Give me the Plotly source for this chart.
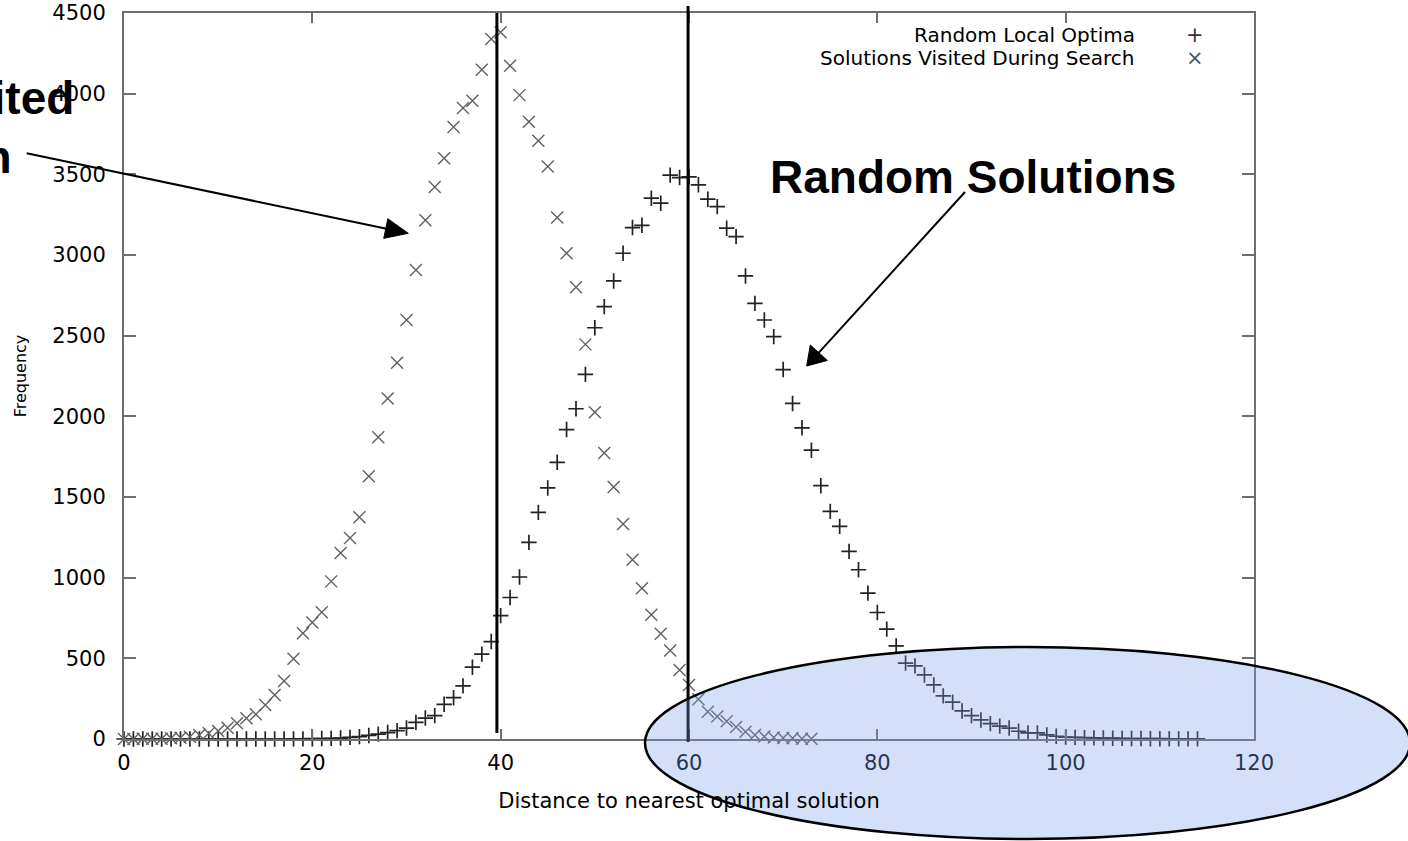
import plotly.graph_objects as go

# ---------------- data ----------------
local_optima_dist = list(range(0, 115))
local_optima_freq = [0, 0, 0, 0, 0, 0, 0, 0, 0, 0,
                     0, 0, 0, 0, 0, 0, 0, 0, 1, 1,
                     2, 3, 4, 6, 10, 15, 22, 30, 40, 52,
                     68, 103, 130, 145, 215, 256, 329, 445, 526, 604,
                     765, 877, 1004, 1219, 1405, 1556, 1715, 1918, 2047, 2260,
                     2549, 2680, 2839, 3011, 3170, 3184, 3352, 3321, 3495, 3480,
                     3484, 3435, 3346, 3300, 3166, 3114, 2870, 2700, 2597, 2494,
                     2290, 2080, 1929, 1790, 1570, 1411, 1318, 1163, 1049, 904,
                     784, 681, 577, 470, 453, 397, 335, 267, 228, 174,
                     145, 118, 95, 80, 68, 48, 38, 38, 25, 17,
                     12, 10, 8, 7, 6, 5, 4, 3, 3, 2,
                     2, 1, 1, 1, 1]

visited_dist = list(range(0, 74))
visited_freq = [0, 0, 1, 1, 2, 4, 8, 14, 25, 35,
                50, 70, 97, 128, 153, 211, 273, 360, 497, 656,
                722, 786, 977, 1153, 1246, 1374, 1628, 1870, 2110, 2332,
                2597, 2907, 3215, 3422, 3600, 3794, 3911, 3956, 4148, 4339,
                4380, 4173, 3991, 3826, 3708, 3549, 3232, 3011, 2800, 2446,
                2026, 1773, 1562, 1333, 1111, 935, 770, 652, 548, 428,
                335, 246, 169, 140, 110, 75, 45, 25, 15, 10,
                6, 4, 2, 1]

x_tick_vals = [0, 20, 40, 60, 80, 100, 120]
y_tick_vals = [0, 500, 1000, 1500, 2000, 2500, 3000, 3500, 4000, 4500]
reference_lines = [39.6, 59.9]

series_names = ["Random Local Optima", "Solutions Visited During Search"]
callouts = ["Random Solutions", "Solutions Visited", "During Optimization"]

# ---------------- figure geometry ----------------
W, H = 1408, 841
L, R, T, B = 124, 154, 13, 102
PW, PH = W - L - R, H - T - B


def px(xp, yp):
    """pixel -> paper coordinates"""
    return (xp - L) / PW, (H - B - yp) / PH


FONT = "DejaVu Sans"

fig = go.Figure()

fig.add_trace(go.Scatter(
    x=local_optima_dist, y=local_optima_freq, mode="markers", name=series_names[0],
    marker=dict(symbol="cross-thin", size=11, line=dict(width=1.7, color="#222222"),
                color="#222222"),
    cliponaxis=False, showlegend=False))

fig.add_trace(go.Scatter(
    x=visited_dist, y=visited_freq, mode="markers", name=series_names[1],
    marker=dict(symbol="x-thin", size=12, line=dict(width=1.4, color="#606060"),
                color="#606060"),
    cliponaxis=False, showlegend=False))

shapes = []
# vertical reference lines
shapes.append(dict(type="line", xref="x", yref="paper", x0=reference_lines[0], x1=reference_lines[0],
                   y0=px(0, 733)[1], y1=px(0, 13)[1], line=dict(color="black", width=3)))
shapes.append(dict(type="line", xref="x", yref="paper", x0=reference_lines[1], x1=reference_lines[1],
                   y0=px(0, 742)[1], y1=px(0, 6)[1], line=dict(color="black", width=3)))

# highlighted ellipse
ex0, ey0 = px(645, 839)
ex1, ey1 = px(1410, 647)
shapes.append(dict(type="circle", xref="paper", yref="paper", x0=ex0, x1=ex1, y0=ey0, y1=ey1,
                   fillcolor="rgba(120,160,240,0.32)", line=dict(color="black", width=2.5),
                   layer="above"))


def arrow(tail, tip, head_len, half_w, width=2):
    import math
    dx, dy = tip[0] - tail[0], tip[1] - tail[1]
    n = math.hypot(dx, dy)
    ux, uy = dx / n, dy / n
    bx, by = tip[0] - ux * head_len, tip[1] - uy * head_len
    a = px(*tail)
    b = px(bx + ux * 2, by + uy * 2)
    out = [dict(type="line", xref="paper", yref="paper", x0=a[0], y0=a[1], x1=b[0], y1=b[1],
                line=dict(color="black", width=width), layer="above")]
    p1 = px(bx - uy * half_w, by + ux * half_w)
    p2 = px(bx + uy * half_w, by - ux * half_w)
    p3 = px(*tip)
    path = "M{},{} L{},{} L{},{} Z".format(p1[0], p1[1], p3[0], p3[1], p2[0], p2[1])
    out.append(dict(type="path", xref="paper", yref="paper", path=path,
                    fillcolor="black", line=dict(color="black", width=1), layer="above"))
    return out


shapes += arrow((26.7, 153.3), (408.3, 233.3), 23, 10)
shapes += arrow((965, 192), (806.7, 366), 18, 11.5)

annotations = []
# callout texts
cx, cy = px(972.5, 177)
annotations.append(dict(text="<b>%s</b>" % callouts[0], x=cx, y=cy, xref="paper", yref="paper",
                        xanchor="center", yanchor="middle", showarrow=False,
                        font=dict(family="Liberation Sans", size=46, color="black")))
lx, ly = px(76, 98)
annotations.append(dict(text="<b>%s</b>" % callouts[1], x=lx, y=ly, xref="paper", yref="paper",
                        xanchor="right", yanchor="middle", showarrow=False,
                        font=dict(family="Liberation Sans", size=46, color="black")))
lx2, ly2 = px(14, 157)
annotations.append(dict(text="<b>%s</b>" % callouts[2], x=lx2, y=ly2, xref="paper", yref="paper",
                        xanchor="right", yanchor="middle", showarrow=False,
                        font=dict(family="Liberation Sans", size=46, color="black")))

# clipped title fragment at the top
tx, ty = px(562, -3)
annotations.append(dict(text="<i>p</i>", x=tx, y=ty, xref="paper", yref="paper",
                        xanchor="center", yanchor="bottom", showarrow=False,
                        font=dict(family="Liberation Serif", size=22, color="black")))

# key (text right-aligned, symbol on the right, gnuplot style)
for i, (name, sym, yy) in enumerate(zip(series_names, ["+", "×"], [35, 58])):
    kx, ky = px(1137, yy)
    annotations.append(dict(text=name, x=kx, y=ky, xref="paper", yref="paper",
                            xanchor="right", yanchor="middle", showarrow=False,
                            font=dict(family=FONT, size=20, color="black")))
    sx, sy = px(1195, yy)
    annotations.append(dict(text=sym, x=sx, y=sy, xref="paper", yref="paper",
                            xanchor="center", yanchor="middle", showarrow=False,
                            font=dict(family=FONT, size=21, color="#333333" if i == 0 else "#555555")))

axis_common = dict(showline=True, linecolor="#6e6e6e", linewidth=2, mirror="allticks",
                   ticks="inside", tickcolor="#6e6e6e", tickwidth=1.5,
                   showgrid=False, zeroline=False, automargin=False,
                   tickfont=dict(family=FONT, size=21, color="black"))

fig.update_layout(
    width=W, height=H,
    margin=dict(l=L, r=R, t=T, b=B, pad=0),
    paper_bgcolor="white", plot_bgcolor="white",
    shapes=shapes, annotations=annotations,
    xaxis=dict(range=[0, 120], tickvals=x_tick_vals, ticktext=[str(v) for v in x_tick_vals],
               ticklen=10, ticklabelstandoff=4,
               title=dict(text="Distance to nearest optimal solution",
                          font=dict(family=FONT, size=21, color="black"), standoff=19),
               **axis_common),
    yaxis=dict(range=[0, 4500], tickvals=y_tick_vals, ticktext=[str(v) for v in y_tick_vals],
               ticklen=12, ticklabelstandoff=12,
               title=dict(text="Frequency", font=dict(family=FONT, size=16, color="black"),
                          standoff=22),
               **axis_common),
)

fig.write_html("out.html", config={"displayModeBar": False},
               post_script="document.body.style.margin='0px';")
